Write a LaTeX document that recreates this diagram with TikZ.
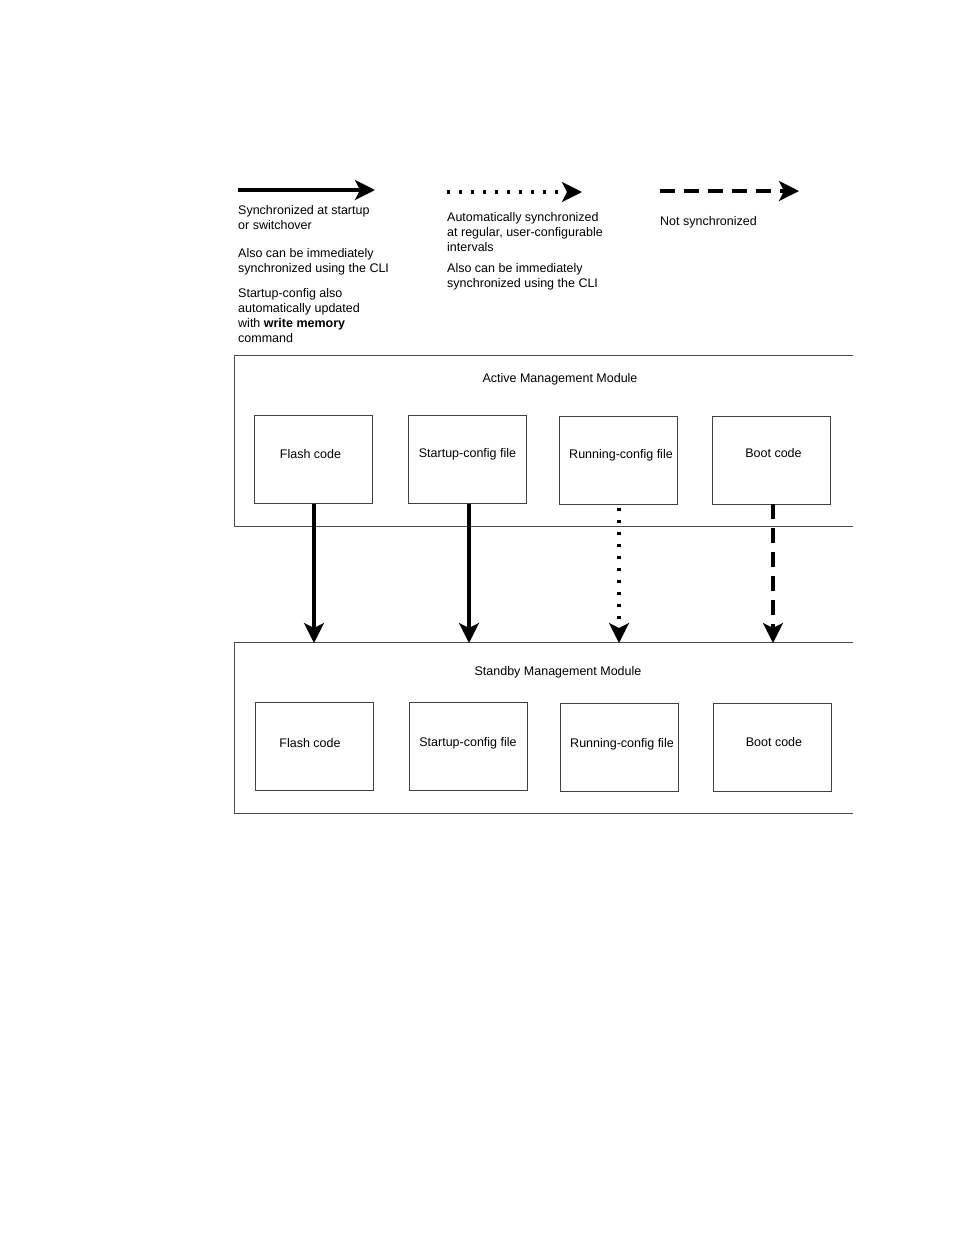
\documentclass[tikz,border=0pt]{standalone}
\usepackage{fontspec}
\setmainfont{Liberation Sans}
\usetikzlibrary{arrows.meta}
\begin{document}
\begin{tikzpicture}[x=1pt,y=-1pt,
  every node/.style={font=\fontsize{12.5}{15}\selectfont, inner sep=0pt},
  txt/.style={anchor=base west, align=left},
  item/.style={draw=black!75, line width=0.8pt, minimum width=118pt, minimum height=88pt},
  modline/.style={draw=black!70, line width=0.8pt},
  tip/.style={-{Stealth[length=20pt,width=20pt,inset=5pt]}},
  synca/.style={tip, line width=3.2pt},
  autoa/.style={tip, line width=3.2pt, dash pattern=on 3pt off 9pt},
  nota/.style={tip, line width=3.2pt, dash pattern=on 15pt off 9pt}]
\useasboundingbox (0,0) rectangle (954,1235);

% legend
\coordinate (l1a) at (238,190);  \coordinate (l1b) at (375,190);
\coordinate (l2a) at (447,192);  \coordinate (l2b) at (582,192);
\coordinate (l3a) at (660,191);  \coordinate (l3b) at (799,191);
\draw[synca] (l1a) -- (l1b);
\draw[autoa] (l2a) -- (l2b);
\draw[nota] (l3a) -- (l3b);

% base anchor = baseline of the last line
\node[txt] (t1) at (238,229) {Synchronized at startup\\or switchover};
\node[txt] (t2) at (238,272) {Also can be immediately\\synchronized using the CLI};
\node[txt] (t3) at (238,342) {Startup-config also\\automatically updated\\with \textbf{write memory}\\command};
\node[txt] (t4) at (447,251) {Automatically synchronized\\at regular, user-configurable\\intervals};
\node[txt] (t5) at (447,287) {Also can be immediately\\synchronized using the CLI};
\node[txt] (t6) at (660,225) {Not synchronized};

% active module
\draw[modline] (853,355) -- (234,355) -- (234,526) -- (853,526);
\node (act) at (560,379) {Active Management Module};
\node[item, label={[yshift=5pt,xshift=-3pt]center:Flash code}] (af) at (313.5,459.5) {};
\node[item, label={[yshift=5pt]center:Startup-config file}] (as) at (467.5,459.5) {};
\node[item, label={[yshift=5pt,xshift=3pt]center:Running-config file}] (ar) at (618,460) {};
\node[item, label={[yshift=7pt,xshift=2pt]center:Boot code}] (ab) at (771.5,460) {};

% standby module
\draw[modline] (853,642) -- (234,642) -- (234,813) -- (853,813);
\node (stb) at (558,672) {Standby Management Module};
\node[item, label={[yshift=3pt,xshift=-4pt]center:Flash code}] (sf) at (314,746.5) {};
\node[item, label={[yshift=3pt]center:Startup-config file}] (ss) at (468,746.5) {};
\node[item, label={[yshift=3pt,xshift=3pt]center:Running-config file}] (sr) at (619,747) {};
\node[item, label={[yshift=5pt,xshift=2pt]center:Boot code}] (sb) at (772,747) {};

% arrow ends at standby module top
\coordinate (ef) at (314,643);
\coordinate (es) at (469,643);
\coordinate (er) at (619,643);
\coordinate (eb) at (773,643);
\draw[synca] (af.south -| ef) -- (ef);
\draw[synca] (as.south -| es) -- (es);
\draw[autoa] ([yshift=-4pt]ar.south -| er) -- (er);
\draw[nota] (ab.south -| eb) -- (eb);
\end{tikzpicture}
\end{document}
